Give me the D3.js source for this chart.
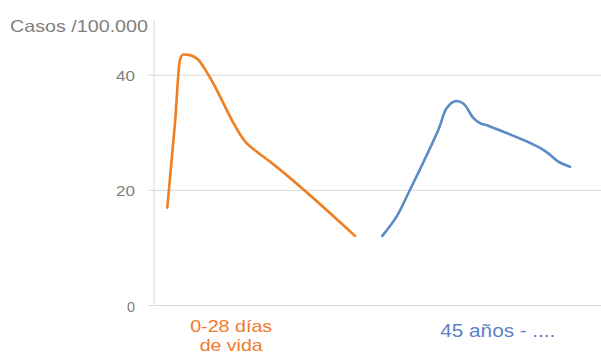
<!DOCTYPE html>
<html>
<head>
<meta charset="utf-8">
<script src="https://cdn.jsdelivr.net/npm/d3@7"></script>
<style>
  html, body { margin: 0; padding: 0; background: #fff; }
  svg { display: block; font-family: "Liberation Sans", Arial, sans-serif; }
</style>
</head>
<body>
<svg id="chart" width="601" height="353"></svg>
<script>
// Position along the age axis (0–100) and rate per 100.000
const neonatalX = [2.98, 4.71, 5.83, 6.57, 8.07, 9.93, 12.17, 20.78, 22.26, 26.01, 45.07];
const neonatalY = [16.9, 31.6, 42.6, 43.5, 43.4, 42.6, 40.0, 28.1, 27.1, 24.9, 12.0];
const adultX    = [51.19, 54.42, 57.02, 63.74, 65.63, 67.49, 69.35, 71.59, 73.09, 75.34, 86.55, 88.79, 90.65, 93.27];
const adultY    = [12.0, 15.4, 19.4, 30.4, 34.2, 35.4, 35.0, 32.5, 31.6, 31.0, 27.3, 26.1, 24.9, 24.0];
const yTicks = [0, 20, 40];
const groupLabels = [["0-28 días", "de vida"], ["45 años - ...."]];
const groupLabelX = [17.3, 77.1];
const yTitle = "Casos /100.000";

const svg = d3.select("#chart");
const x = d3.scaleLinear().domain([0, 100]).range([154, 600]);
const y = d3.scaleLinear().domain([0, 49.5]).range([305, 20]);

// Horizontal gridlines with tick labels
const yAxis = d3.axisLeft(y).tickValues(yTicks).tickSize(-(601 - 148)).tickPadding(13);
const gy = svg.append("g").attr("transform", "translate(148,0)").call(yAxis);
gy.select(".domain").remove();
gy.selectAll(".tick line").attr("stroke", "#d9d9d9").attr("stroke-width", 1);
gy.selectAll(".tick text")
  .attr("fill", "#7f7f7f").attr("font-size", 14.5).attr("dy", "0.42em")
  .attr("font-family", "Liberation Sans, Arial, sans-serif")
  .attr("textLength", d => d === 0 ? 8 : 19)
  .attr("lengthAdjust", "spacingAndGlyphs");

// Vertical axis line
svg.append("line")
  .attr("x1", x(0)).attr("x2", x(0))
  .attr("y1", y(49.5)).attr("y2", y(0))
  .attr("stroke", "#d9d9d9").attr("stroke-width", 1);

// Axis title
svg.append("text").attr("x", 10).attr("y", 32)
  .attr("fill", "#7f7f7f").attr("font-size", 16.5)
  .attr("textLength", 138).attr("lengthAdjust", "spacingAndGlyphs")
  .text(yTitle);

const neonatalLine = d3.line().x(d => x(d[0])).y(d => y(d[1])).curve(d3.curveMonotoneX);
const adultLine = d3.line().x(d => x(d[0])).y(d => y(d[1])).curve(d3.curveCatmullRom.alpha(0.5));

svg.append("path")
  .datum(d3.zip(neonatalX, neonatalY))
  .attr("d", neonatalLine).attr("fill", "none")
  .attr("stroke", "#f07f22").attr("stroke-width", 2.6)
  .attr("stroke-linecap", "round").attr("stroke-linejoin", "round");

svg.append("path")
  .datum(d3.zip(adultX, adultY))
  .attr("d", adultLine).attr("fill", "none")
  .attr("stroke", "#5b8bc5").attr("stroke-width", 2.6)
  .attr("stroke-linecap", "round").attr("stroke-linejoin", "round");

// Group labels under the axis
const labelColors = ["#f07a2c", "#5b82c2"];
const labelWidths = [[82, 63], [115]];
const labelBase = [332, 337];
const labelSize = [16.5, 17.5];
groupLabels.forEach((lines, i) => {
  lines.forEach((s, j) => {
    svg.append("text").attr("text-anchor", "middle")
      .attr("fill", labelColors[i]).attr("font-size", labelSize[i])
      .attr("x", x(groupLabelX[i])).attr("y", labelBase[i] + j * 19)
      .attr("textLength", labelWidths[i][j]).attr("lengthAdjust", "spacingAndGlyphs")
      .text(s);
  });
});
</script>
</body>
</html>
